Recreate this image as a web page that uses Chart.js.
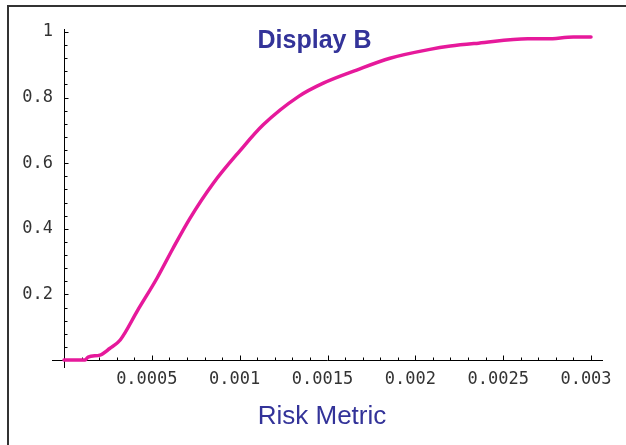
<!DOCTYPE html>
<html><head><meta charset="utf-8">
<script src="https://cdn.jsdelivr.net/npm/chart.js@4.4.1/dist/chart.umd.min.js"></script>
<style>html,body{margin:0;padding:0;background:#fff}#wrap{width:626px;height:445px}</style>
</head><body><div id="wrap"><canvas id="c" width="626" height="445"></canvas></div>
<script>
const riskMetric = [0, 0.00012, 0.000137, 0.000205, 0.00026, 0.00032, 0.00042, 0.00053, 0.00062, 0.000717, 0.00085, 0.001, 0.001134, 0.001334, 0.001476, 0.001666, 0.001856, 0.002083, 0.0022, 0.00236, 0.00264, 0.00275, 0.0029, 0.003];
const fraction   = [0, 0, 0.009, 0.015, 0.035, 0.061, 0.152, 0.25, 0.34, 0.432, 0.539, 0.637, 0.717, 0.803, 0.844, 0.884, 0.920, 0.947, 0.957, 0.966, 0.979, 0.979, 0.985, 0.985];
const xTickValues = [0.0005, 0.001, 0.0015, 0.002, 0.0025, 0.003];
const xTickLabels = ["0.0005", "0.001", "0.0015", "0.002", "0.0025", "0.003"];
const yTickValues = [0.2, 0.4, 0.6, 0.8, 1];
const yTickLabels = ["0.2", "0.4", "0.6", "0.8", "1"];
const chartTitle = "Display B";
const xAxisTitle = "Risk Metric";

const points = riskMetric.map((x, i) => ({x: x, y: fraction[i]}));
const tickFont = {family: '"DejaVu Sans Mono", monospace', size: 17};

const decor = {
  id: 'decor',
  beforeDraw(chart) {
    const ctx = chart.ctx;
    ctx.save();
    ctx.fillStyle = '#fff';
    ctx.fillRect(0, 0, chart.width, chart.height);
    ctx.strokeStyle = '#333';
    ctx.lineWidth = 2;
    ctx.beginPath();
    ctx.moveTo(8, chart.height);
    ctx.lineTo(8, 6);
    ctx.lineTo(chart.width, 6);
    ctx.stroke();
    ctx.restore();
  },
  beforeDatasetsDraw(chart) {
    const ctx = chart.ctx, xs = chart.scales.x, ys = chart.scales.y, a = chart.chartArea;
    const x0 = Math.round(xs.getPixelForValue(0)) + 0.5;
    const y0 = Math.round(ys.getPixelForValue(0)) + 0.5;
    ctx.save();
    ctx.strokeStyle = '#000';
    ctx.lineWidth = 1;
    ctx.beginPath();
    ctx.moveTo(a.left, y0); ctx.lineTo(a.right, y0);
    ctx.moveTo(x0, a.top); ctx.lineTo(x0, a.bottom);
    for (let i = 1; i <= 30; i++) {
      const px = Math.round(xs.getPixelForValue(i * 0.0001)) + 0.5;
      const len = (i % 5 === 0) ? 5 : 3;
      ctx.moveTo(px, y0); ctx.lineTo(px, y0 - len);
    }
    for (let i = 1; i <= 25; i++) {
      const py = Math.round(ys.getPixelForValue(i * 0.04)) + 0.5;
      const len = (i % 5 === 0) ? 4 : 3;
      ctx.moveTo(x0, py); ctx.lineTo(x0 + len, py);
    }
    ctx.stroke();
    ctx.restore();
  },
  afterDraw(chart) {
    const ctx = chart.ctx;
    ctx.save();
    ctx.fillStyle = '#333399';
    ctx.textAlign = 'center';
    ctx.textBaseline = 'alphabetic';
    ctx.font = 'bold 25px "Liberation Sans", Arial, sans-serif';
    ctx.fillText(chartTitle, 314.5, 48);
    ctx.font = '26px "Liberation Sans", Arial, sans-serif';
    ctx.fillText(xAxisTitle, 322, 424);
    ctx.restore();
  }
};

new Chart(document.getElementById('c'), {
  type: 'scatter',
  data: {
    datasets: [{
      data: points,
      showLine: true,
      borderColor: '#e6199b',
      backgroundColor: '#e6199b',
      borderWidth: 3.5,
      pointRadius: 0,
      cubicInterpolationMode: 'monotone',
      borderCapStyle: 'round',
      borderJoinStyle: 'round'
    }]
  },
  options: {
    responsive: false,
    devicePixelRatio: 1,
    animation: false,
    layout: {padding: {top: 29, right: 23, left: 0, bottom: 0}},
    plugins: {legend: {display: false}, tooltip: {enabled: false}, title: {display: false}},
    scales: {
      x: {
        type: 'linear',
        min: -0.0000683,
        max: 0.0030683,
        afterBuildTicks: s => { s.ticks = xTickValues.map(v => ({value: v})); },
        afterFit: s => { s.height = 77; },
        grid: {display: false, drawTicks: false},
        border: {display: false},
        ticks: {
          callback: v => xTickLabels[xTickValues.indexOf(v)],
          font: tickFont, color: '#333', padding: 1, labelOffset: -5,
          maxRotation: 0, autoSkip: false
        },
        title: {display: false, text: xAxisTitle}
      },
      y: {
        type: 'linear',
        min: -0.0244,
        max: 1.0091,
        afterBuildTicks: s => { s.ticks = yTickValues.map(v => ({value: v})); },
        afterFit: s => { s.width = 52; },
        grid: {display: false, drawTicks: false},
        border: {display: false},
        ticks: {
          callback: v => yTickLabels[yTickValues.indexOf(v)],
          font: tickFont, color: '#333', padding: -1, autoSkip: false
        }
      }
    }
  },
  plugins: [decor]
});
</script>
</body></html>
